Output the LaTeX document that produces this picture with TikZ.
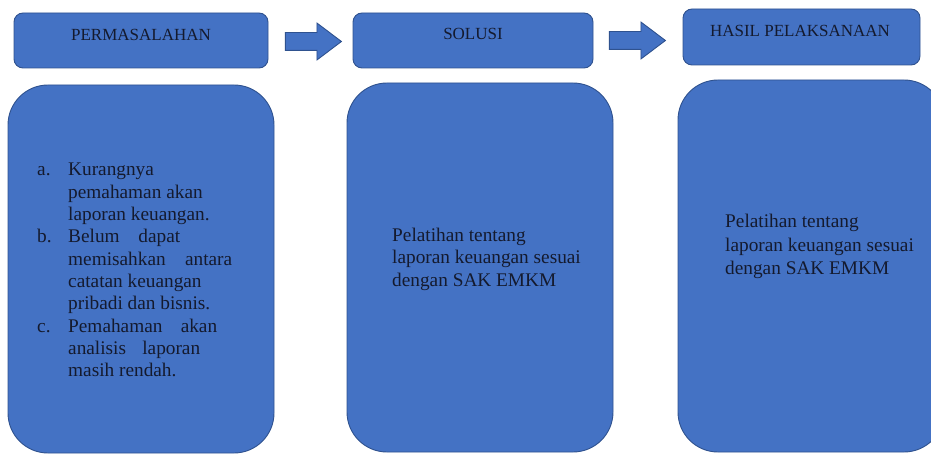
\documentclass[tikz,border=0pt]{standalone}
\usepackage{fontspec}
\setmainfont{Liberation Serif}
\usetikzlibrary{positioning,shapes.arrows}
\definecolor{boxblue}{HTML}{4472C4}
\definecolor{boxline}{HTML}{2F528F}
\definecolor{txtdark}{HTML}{141A2E}
\tikzset{
  headbox/.style={draw=boxline,fill=boxblue,line width=0.9pt,rounded corners=9pt,inner sep=0pt,minimum height=55pt},
  bodybox/.style={draw=boxline,fill=boxblue,line width=0.9pt,rounded corners=40pt,inner sep=0pt,minimum width=266pt},
  headtext/.style={font=\fontsize{17}{20}\selectfont,text=txtdark,inner sep=0pt,anchor=base},
  bodytext/.style={text=txtdark,inner sep=0pt,anchor=base west},
  flowarrow/.style={single arrow,draw=boxline,fill=boxblue,line width=0.9pt,inner xsep=0pt,inner ysep=8.5pt,
    minimum height=56pt,single arrow head extend=9.5pt,single arrow tip angle=74}
}
\begin{document}
\begin{tikzpicture}[x=1pt,y=-1pt]
	    \useasboundingbox (0,0) rectangle (931,454);
	    % kotak judul
	    \node[headbox,minimum width=254pt] (prob) at (141,40.5) {};
	    \node[headbox,minimum width=240pt] (sol) at (473,40.5) {};
	    \node[headbox,minimum width=237pt,minimum height=56pt] (hasil) at (801.5,37) {};
	    \node[headtext] (probT) at (141,40.7) {PERMASALAHAN};
	    \node[headtext] (solT) at (473,39.3) {SOLUSI};
	    \node[headtext] (hasilT) at (800,36.7) {HASIL PELAKSANAAN};
	    % panah
	    \node[flowarrow] (arrA) at (307.5,41.5) {};
	    \node[flowarrow] (arrB) at (631.5,40.5) {};
	    % kotak isi
	    \node[bodybox,minimum height=368pt] (probBody) at (141,269) {};
	    \node[bodybox,minimum height=369pt] (solBody) at (480,267.5) {};
	    \node[bodybox,minimum height=372pt] (hasilBody) at (811,266) {};
	    \node[bodytext,font=\fontsize{19.3}{22.3}\selectfont] (probList) at (37,176) {%
	      \begin{tabular}[t]{@{}p{31pt}@{}l@{}}
	        a. & Kurangnya\\
	           & pemahaman akan\\
	           & laporan keuangan.\\
	        b. & \makebox[112pt][s]{Belum dapat}\\
	           & \makebox[164pt][s]{memisahkan antara}\\
	           & catatan keuangan\\
	           & pribadi dan bisnis.\\
	        c. & \makebox[149pt][s]{Pemahaman akan}\\
	           & \makebox[132pt][s]{analisis laporan}\\
	           & masih rendah.
	      \end{tabular}};
	    \node[bodytext,font=\fontsize{19.3}{22}\selectfont] (solText) at (392,242) {%
	      \begin{tabular}[t]{@{}l@{}}
	        Pelatihan tentang\\
	        laporan keuangan sesuai\\
	        dengan SAK EMKM
	      \end{tabular}};
	    \node[bodytext,font=\fontsize{19.3}{23.5}\selectfont] (hasilText) at (725,228) {%
	      \begin{tabular}[t]{@{}l@{}}
	        Pelatihan tentang\\
	        laporan keuangan sesuai\\
	        dengan SAK EMKM
	      \end{tabular}};
	\end{tikzpicture}
\end{document}
